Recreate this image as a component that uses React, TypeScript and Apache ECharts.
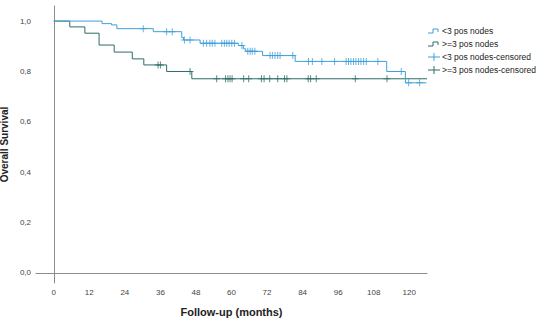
import React, { useEffect, useRef } from "react";
import * as echarts from "echarts";

// Kaplan-Meier step data (months, survival)
const lowTimes = [0, 16.3, 19.5, 21.3, 33.6, 43.2, 43.8, 49.4, 62.3, 64.0, 64.8, 70.5, 81.5, 112.4, 118.7, 125.8];
const lowSurv = [1, 0.99, 0.985, 0.97, 0.958, 0.935, 0.925, 0.912, 0.903, 0.89, 0.88, 0.863, 0.84, 0.8, 0.755, 0.755];
const lowCensored = [30.2, 38.1, 40.0, 44.1, 46.0, 50.5, 51.6, 52.7, 53.5, 54.4, 56.7, 57.6, 58.4, 59.2, 60.1, 61.0, 63.5, 65.5, 66.3, 67.0, 67.9, 73.0, 73.8, 74.7, 75.6, 76.4, 80.7, 86.0, 87.3, 90.5, 94.8, 98.7, 99.5, 100.3, 101.2, 102.0, 102.9, 103.7, 104.6, 105.5, 109.4, 117.3, 119.8, 123.5];

const highTimes = [0, 5.4, 10.5, 15.3, 20.4, 26.5, 30.4, 38.1, 46.6, 126];
const highSurv = [1, 0.977, 0.952, 0.905, 0.877, 0.85, 0.826, 0.8, 0.771, 0.771];
const highCensored = [35.2, 36.0, 46.0, 55.0, 58.0, 58.8, 59.5, 60.2, 64.1, 65.8, 70.1, 71.0, 72.9, 75.6, 77.9, 78.7, 85.9, 86.7, 88.6, 101.8, 112.5];

const seriesNames = ["<3 pos nodes", ">=3 pos nodes", "<3 pos nodes-censored", ">=3 pos nodes-censored"];

const BLUE = "#3f9fda";
const DARK = "#2e6d67";
const FONT = "'Liberation Sans', Arial, sans-serif";

const plusSymbol = "path://M3,0L4,0L4,3L7,3L7,4L4,4L4,7L3,7L3,4L0,4L0,3L3,3Z";

function survAt(times: number[], surv: number[], t: number) {
  let v = surv[0];
  for (let i = 0; i < times.length; i++) if (times[i] <= t) v = surv[i];
  return v;
}

export default function App() {
  const ref = useRef<HTMLDivElement>(null);
  useEffect(() => {
    if (!ref.current) return;
    const chart = echarts.init(ref.current, null, { renderer: "svg" });
    const legendX = 428;
    const legendRows = [31, 44, 57, 70];
    const legendColors = [BLUE, DARK, BLUE, DARK];
    const graphics: any[] = [];
    legendRows.forEach((y, i) => {
      const c = legendColors[i];
      if (i < 2) {
        graphics.push({
          type: "polyline",
          shape: { points: [[legendX, y + 2], [legendX + 5, y + 2], [legendX + 5, y - 2], [legendX + 10, y - 2], [legendX + 10, y + 1]] },
          style: { stroke: c, lineWidth: 1, fill: null },
        });
      } else {
        graphics.push({ type: "line", shape: { x1: legendX, y1: y, x2: legendX + 12, y2: y }, style: { stroke: c, lineWidth: 1 } });
        graphics.push({ type: "line", shape: { x1: legendX + 6, y1: y - 4, x2: legendX + 6, y2: y + 4 }, style: { stroke: c, lineWidth: 1 } });
      }
      graphics.push({
        type: "text",
        x: legendX + 14,
        y: y,
        style: { text: seriesNames[i], font: `8.5px ${FONT}`, fill: "#222", verticalAlign: "middle", align: "left" },
      });
    });

    chart.setOption({
      animation: false,
      backgroundColor: "#fff",
      grid: { left: 36, right: 123, top: 6, bottom: 41, containLabel: false, outerBoundsMode: "none" },
      xAxis: {
        type: "value",
        min: -6,
        max: 126,
        interval: 6,
        name: "Follow-up (months)",
        nameLocation: "middle",
        nameGap: 23,
        nameMoveOverlap: false,
        nameTextStyle: { fontFamily: FONT, fontSize: 11, fontWeight: "bold", color: "#222" },
        axisLine: { lineStyle: { color: "#8c8c8c", width: 1 } },
        axisTick: { show: false },
        splitLine: { show: false },
        axisLabel: {
          fontFamily: FONT,
          fontSize: 8,
          color: "#444",
          margin: 5,
          formatter: (v: number) => (v >= 0 && v <= 120 && Math.abs(v % 12) < 1e-6 ? String(v) : ""),
        },
      },
      yAxis: {
        type: "value",
        min: -0.04,
        max: 1.06,
        interval: 0.02,
        name: "Overall Survival",
        nameLocation: "middle",
        nameGap: 27,
        nameMoveOverlap: false,
        nameTextStyle: { fontFamily: FONT, fontSize: 10, fontWeight: "bold", color: "#222" },
        axisLine: { show: true, lineStyle: { color: "#8c8c8c", width: 1 } },
        axisTick: { show: false },
        splitLine: { show: false },
        axisLabel: {
          fontFamily: FONT,
          fontSize: 8,
          color: "#444",
          margin: 5,
          formatter: (v: number) => {
            const k = v / 0.2;
            if (v > -1e-9 && Math.abs(k - Math.round(k)) < 1e-6) return v.toFixed(1).replace(".", ",");
            return "";
          },
        },
      },
      graphic: graphics,
      series: [
        {
          name: seriesNames[1],
          type: "line",
          step: "end",
          showSymbol: false,
          lineStyle: { color: DARK, width: 1 },
          data: highTimes.map((t, i) => [t, highSurv[i]]),
        },
        {
          name: seriesNames[0],
          type: "line",
          step: "end",
          showSymbol: false,
          lineStyle: { color: BLUE, width: 1 },
          data: lowTimes.map((t, i) => [t, lowSurv[i]]),
        },
        {
          name: seriesNames[3],
          type: "scatter",
          symbol: plusSymbol,
          symbolSize: 7,
          itemStyle: { color: DARK },
          data: highCensored.map((t) => [t, survAt(highTimes, highSurv, t)]),
        },
        {
          name: seriesNames[2],
          type: "scatter",
          symbol: plusSymbol,
          symbolSize: 7,
          itemStyle: { color: BLUE },
          data: lowCensored.map((t) => [t, survAt(lowTimes, lowSurv, t)]),
        },
      ],
    });
    return () => chart.dispose();
  }, []);
  return <div ref={ref} style={{ width: 550, height: 324, position: "fixed", left: 0, top: 0 }} />;
}
